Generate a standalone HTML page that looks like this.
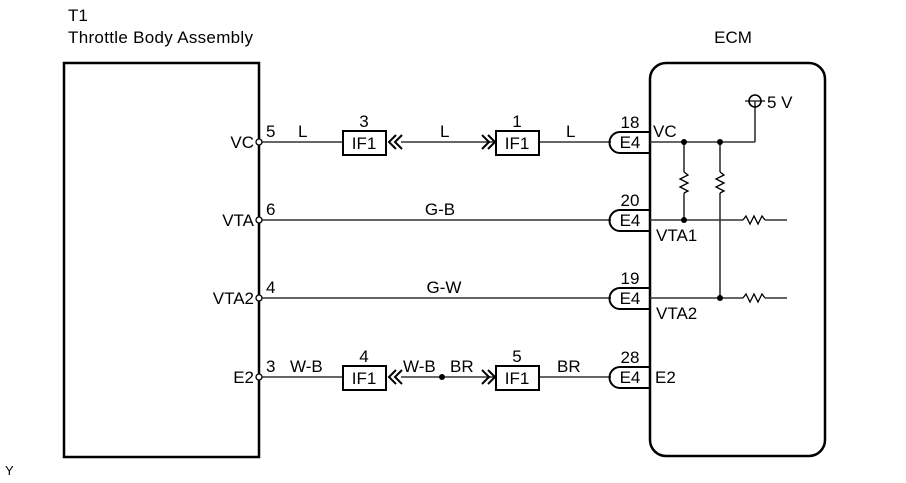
<!DOCTYPE html>
<html><head><style>
html,body{margin:0;padding:0;background:#fff;}
svg{display:block;}
text{font-family:"Liberation Sans",Arial,sans-serif;font-size:17px;fill:#000;}
</style></head><body>
<svg width="906" height="483" viewBox="0 0 906 483" xmlns="http://www.w3.org/2000/svg">
<g fill="none" stroke="#000">
<rect x="64" y="63" width="195" height="394" stroke-width="2.5"/>
<rect x="650" y="63" width="175" height="393" rx="16" stroke-width="2.5"/>
<g stroke="#333" stroke-width="1.6">
<line x1="262" y1="142" x2="343" y2="142"/>
<line x1="401" y1="142" x2="494" y2="142"/>
<line x1="539" y1="142" x2="611" y2="142"/>
<line x1="262" y1="220" x2="611" y2="220"/>
<line x1="262" y1="298" x2="611" y2="298"/>
<line x1="262" y1="377" x2="343" y2="377"/>
<line x1="401" y1="377" x2="494" y2="377"/>
<line x1="539" y1="377" x2="611" y2="377"/>
<line x1="650" y1="142" x2="755" y2="142"/>
<line x1="755" y1="142" x2="755" y2="101"/>
<line x1="745" y1="101" x2="765" y2="101"/>
<line x1="650" y1="220" x2="743" y2="220"/>
<line x1="765" y1="220" x2="787" y2="220"/>
<line x1="650" y1="298" x2="743" y2="298"/>
<line x1="765" y1="298" x2="787" y2="298"/>
<line x1="684" y1="142" x2="684" y2="172"/>
<line x1="684" y1="193" x2="684" y2="220"/>
<line x1="720" y1="142" x2="720" y2="172"/>
<line x1="720" y1="193" x2="720" y2="298"/>
</g>
<g stroke="#000" stroke-width="1.3">
<polyline points="684,172 688,175 680,179 688,183 680,187 688,191 684,193"/>
<polyline points="720,172 724,175 716,179 724,183 716,187 724,191 720,193"/>
<polyline points="743,220 746,216 750,224 754,216 758,224 762,216 765,220"/>
<polyline points="743,298 746,294 750,302 754,294 758,302 762,294 765,298"/>
</g>
<circle cx="755" cy="101" r="6" stroke-width="1.6"/>
<g stroke-width="1.3">
<circle cx="259" cy="142" r="3" fill="#fff"/>
<circle cx="259" cy="220" r="3" fill="#fff"/>
<circle cx="259" cy="298" r="3" fill="#fff"/>
<circle cx="259" cy="377" r="3" fill="#fff"/>
</g>
<g stroke-width="2">
<rect x="343" y="131" width="43" height="24"/>
<rect x="496" y="131" width="43" height="24"/>
<rect x="343" y="366" width="43" height="24"/>
<rect x="496" y="366" width="43" height="24"/>
<path d="M650 132 H620 A10.5 10.5 0 0 0 620 153 H650"/>
<path d="M650 210 H620 A10.5 10.5 0 0 0 620 231 H650"/>
<path d="M650 288 H620 A10.5 10.5 0 0 0 620 309 H650"/>
<path d="M650 367 H620 A10.5 10.5 0 0 0 620 388 H650"/>
<polyline points="396,135 389,142 396,149"/><polyline points="402,135 395,142 402,149"/>
<polyline points="482,135 489,142 482,149"/><polyline points="488,135 495,142 488,149"/>
<polyline points="396,370 389,377 396,384"/><polyline points="402,370 395,377 402,384"/>
<polyline points="482,370 489,377 482,384"/><polyline points="488,370 495,377 488,384"/>
</g>
</g>
<g fill="#000">
<circle cx="684" cy="142" r="3"/><circle cx="720" cy="142" r="3"/>
<circle cx="684" cy="220" r="3"/><circle cx="720" cy="298" r="3"/>
<circle cx="442" cy="377" r="3"/>
</g>
<text x="68" y="21">T1</text>
<text x="68" y="43" textLength="185">Throttle Body Assembly</text>
<text x="733" y="43" text-anchor="middle">ECM</text>
<text x="767" y="108">5 V</text>
<text x="254" y="148" text-anchor="end">VC</text>
<text x="254" y="226" text-anchor="end">VTA</text>
<text x="254" y="304" text-anchor="end">VTA2</text>
<text x="254" y="383" text-anchor="end">E2</text>
<text x="266" y="137">5</text><text x="266" y="215">6</text><text x="266" y="293">4</text><text x="266" y="372">3</text>
<text x="298" y="137">L</text><text x="440" y="137">L</text><text x="566" y="137">L</text>
<text x="440" y="215" text-anchor="middle">G-B</text>
<text x="444" y="293" text-anchor="middle">G-W</text>
<text x="290" y="372">W-B</text><text x="403" y="372">W-B</text><text x="450" y="372">BR</text><text x="557" y="372">BR</text>
<text x="364" y="127" text-anchor="middle">3</text><text x="517" y="127" text-anchor="middle">1</text>
<text x="364" y="362" text-anchor="middle">4</text><text x="517" y="362" text-anchor="middle">5</text>
<text x="364" y="149" text-anchor="middle">IF1</text><text x="517" y="149" text-anchor="middle">IF1</text>
<text x="364" y="384" text-anchor="middle">IF1</text><text x="517" y="384" text-anchor="middle">IF1</text>
<text x="630" y="128" text-anchor="middle">18</text><text x="630" y="206" text-anchor="middle">20</text>
<text x="630" y="284" text-anchor="middle">19</text><text x="630" y="363" text-anchor="middle">28</text>
<text x="630" y="148" text-anchor="middle">E4</text><text x="630" y="226" text-anchor="middle">E4</text>
<text x="630" y="304" text-anchor="middle">E4</text><text x="630" y="383" text-anchor="middle">E4</text>
<text x="653" y="137">VC</text>
<text x="656" y="241">VTA1</text>
<text x="656" y="319">VTA2</text>
<text x="655" y="383">E2</text>
<text x="5" y="475" style="font-size:13px">Y</text>
</svg>
</body></html>
